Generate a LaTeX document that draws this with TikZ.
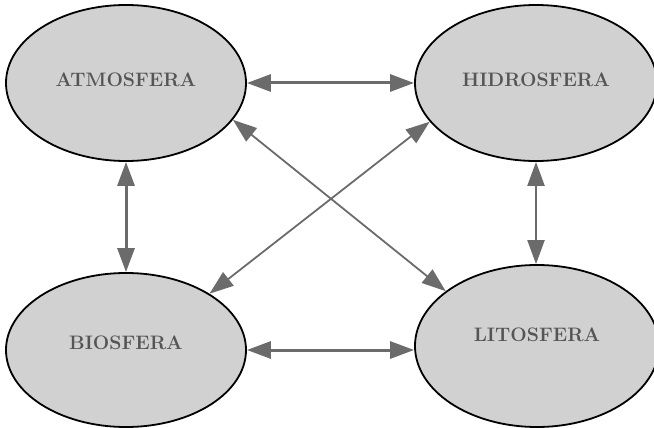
\documentclass[tikz,border=0pt]{standalone}
\usetikzlibrary{shapes.geometric,arrows.meta}
\definecolor{sphfill}{HTML}{D1D1D1}
\definecolor{arrgray}{HTML}{6B6B6B}
\definecolor{txtgray}{HTML}{555555}
\begin{document}
\begin{tikzpicture}[line join=round,x=1pt,y=-1pt,>={Triangle[length=24pt,width=17pt]}]
	\tikzset{sphere/.style={ellipse,draw,line width=1.8pt,fill=sphfill,inner sep=0pt,text=txtgray,font=\fontsize{19.5}{23}\selectfont\bfseries}}
	\tikzset{link/.style={<->,draw=arrgray,line width=3pt}}
	\tikzset{cross/.style={<->,draw=arrgray,line width=1.8pt}}
	\useasboundingbox (0,0) rectangle (654,428);
	\node[sphere,minimum width=240pt,minimum height=156pt,text depth=6pt] (atm) at (126,83) {ATMOSFERA};
	\node[sphere,minimum width=242pt,minimum height=156pt,text depth=6pt] (hid) at (536,83) {HIDROSFERA};
	\node[sphere,minimum width=240pt,minimum height=154pt,text depth=14pt] (bio) at (126,350) {BIOSFERA};
	\node[sphere,minimum width=244pt,minimum height=162pt,text depth=22pt] (lit) at (537,346) {LITOSFERA};
	% arrows between spheres
	\draw[link] (atm.east) -- (hid.west);
	\draw[link] (bio.east) -- (bio.east -| lit.west);
	\draw[link] (atm.south) -- (bio.north);
	\draw[cross,line width=2.2pt] (hid.south) -- (hid.south |- lit.north);
	\draw[cross] (atm.-19) -- (lit.149);
	\draw[cross] (hid.200) -- (bio.34);
\end{tikzpicture}
\end{document}
